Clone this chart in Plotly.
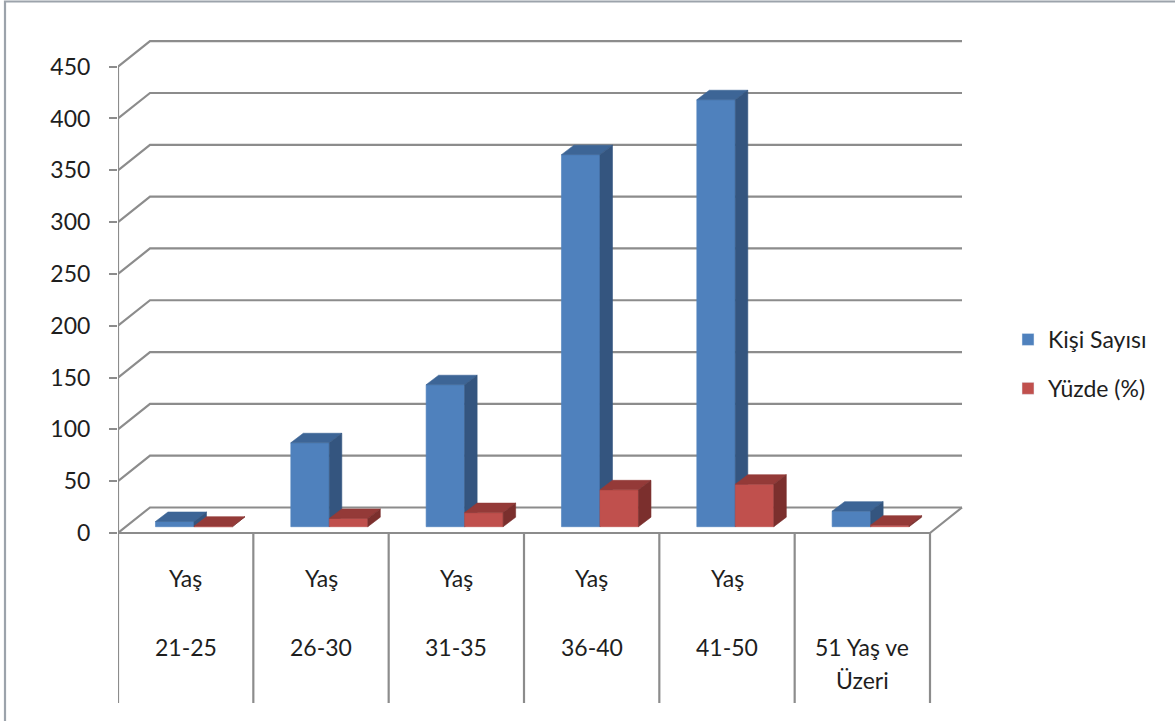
import plotly.graph_objects as go

# ---------------- data ----------------
categories = ["Yaş 21-25", "Yaş 26-30", "Yaş 31-35", "Yaş 36-40", "Yaş 41-50", "51 Yaş ve Üzeri"]
label_row1 = ["Yaş", "Yaş", "Yaş", "Yaş", "Yaş", ""]
label_row2 = ["21-25", "26-30", "31-35", "36-40", "41-50", "51 Yaş ve"]
label_row3 = ["", "", "", "", "", "Üzeri"]
kisi_sayisi = [5, 81, 137, 359, 412, 15]
yuzde = [0.5, 8.0, 13.6, 35.6, 41.0, 1.5]
series_names = ["Kişi Sayısı", "Yüzde (%)"]
y_ticks = [0, 50, 100, 150, 200, 250, 300, 350, 400, 450]

# ---------------- geometry helpers (pixel sizes -> axis units) ----------------
W, H = 1175, 721
PL, PR, PT, PB = 118, 975, 30, 710          # plot area in pixels
PX_PER_CAT = 135.333
PX_PER_UNIT = 1.0363
Y0_PIX = 533                                  # pixel row of value 0 (front)

def ux(p):
    return p / PX_PER_CAT

def uy(p):
    return p / PX_PER_UNIT

n = len(categories)
x_range = [-0.5, -0.5 + ux(PR - PL)]
y_range = [uy(Y0_PIX - PB), uy(Y0_PIX - PT)]

WDX, WDY = ux(32), uy(25.5)      # wall depth
BDX, BDY = ux(12.5), uy(9.5)     # bar depth
BASE = uy(6.3)                   # bar front-face base lift
BW = ux(38.5)                    # bar width
LEFT_OFF = [ux(-30.2), ux(-30.2) + BW]
TABLE_BOTTOM = uy(Y0_PIX - 703)

front_cols = ["#4F81BD", "#C0504D"]
top_cols = ["#3D6596", "#943A38"]
side_cols = ["#34557F", "#7B2F2D"]
grid_col = "#8C8C8C"
font_family = "Lato, 'Open Sans', sans-serif"
text_col = "#1E1E1E"

fig = go.Figure()

# back wall gridlines with the left wall diagonals
gx, gy = [], []
for v in y_ticks:
    gx += [-0.5, -0.5 + WDX, n - 0.5 + WDX, None]
    gy += [v, v + WDY, v + WDY, None]
fig.add_trace(go.Scatter(x=gx, y=gy, mode="lines", line=dict(color=grid_col, width=2.2),
                         hoverinfo="skip", showlegend=False))

# floor front edge + right edge
fig.add_trace(go.Scatter(x=[-0.5, n - 0.5, n - 0.5 + WDX], y=[0, 0, WDY], mode="lines",
                         line=dict(color=grid_col, width=2.2), hoverinfo="skip", showlegend=False))

# category separators (table lines) and the front value axis
sx, sy = [], []
for k in range(n + 1):
    sx += [k - 0.5, k - 0.5, None]
    sy += [0, TABLE_BOTTOM, None]
sx += [-0.5, -0.5, None]
sy += [y_ticks[-1], 0, None]
fig.add_trace(go.Scatter(x=sx, y=sy, mode="lines", line=dict(color=grid_col, width=2.2),
                         hoverinfo="skip", showlegend=False))

# 3D bars: per series front, top and side faces
for s, vals in enumerate([kisi_sayisi, yuzde]):
    fx, fy, tx, ty, qx, qy = [], [], [], [], [], []
    for i, v in enumerate(vals):
        xl = i + LEFT_OFF[s]
        xr = xl + BW
        b, t = BASE, BASE + v
        fx += [xl, xr, xr, xl, xl, None]
        fy += [b, b, t, t, b, None]
        tx += [xl, xr, xr + BDX, xl + BDX, xl, None]
        ty += [t, t, t + BDY, t + BDY, t, None]
        qx += [xr, xr + BDX, xr + BDX, xr, xr, None]
        qy += [b, b + BDY, t + BDY, t, b, None]
    for xs, ys, col in [(fx, fy, front_cols[s]), (tx, ty, top_cols[s]), (qx, qy, side_cols[s])]:
        fig.add_trace(go.Scatter(x=xs, y=ys, mode="lines", fill="toself", fillcolor=col,
                                 line=dict(color=col, width=0.6), hoverinfo="skip",
                                 showlegend=False))

# legend entries
for s, name in enumerate(series_names):
    fig.add_trace(go.Bar(x=[None], y=[None], name=name, marker_color=front_cols[s],
                         legendgroup=name, showlegend=True))

# category labels
annotations = []
rows_y = [uy(Y0_PIX - 578), uy(Y0_PIX - 647), uy(Y0_PIX - 680)]
for i in range(n):
    for row, ry in zip([label_row1, label_row2, label_row3], rows_y):
        if row[i]:
            annotations.append(dict(x=i, y=ry, xref="x", yref="y", text=row[i], showarrow=False,
                                    xanchor="center", yanchor="middle",
                                    font=dict(family=font_family, size=23, color=text_col)))

# outer border
border = dict(type="rect", xref="paper", yref="paper",
              x0=(5 - PL) / (PR - PL), x1=(W + 10 - PL) / (PR - PL),
              y0=(PB - (H + 10)) / (PB - PT), y1=(PB - 1.5) / (PB - PT),
              line=dict(color="#9CA3AB", width=2.2), fillcolor="rgba(0,0,0,0)", layer="below")

fig.update_layout(
    width=W, height=H,
    margin=dict(l=PL, r=W - PR, t=PT, b=H - PB, pad=0),
    paper_bgcolor="white", plot_bgcolor="white",
    font=dict(family=font_family, size=23, color=text_col),
    xaxis=dict(range=x_range, showgrid=False, zeroline=False, showline=False,
               showticklabels=False, ticks="", fixedrange=True),
    yaxis=dict(range=y_range, tickvals=y_ticks, ticktext=[str(v) for v in y_ticks],
               showgrid=False, zeroline=False, showline=False, ticks="outside",
               ticklen=8, tickwidth=2, tickcolor=grid_col, ticklabelstandoff=14,
               tickfont=dict(family=font_family, size=23, color=text_col), fixedrange=True),
    legend=dict(x=(1008 - PL) / (PR - PL), y=(PB - 318) / (PB - PT), xanchor="left", yanchor="top",
                font=dict(family=font_family, size=23, color=text_col),
                tracegroupgap=16, bgcolor="rgba(0,0,0,0)", itemwidth=30),
    annotations=annotations,
    shapes=[border],
    showlegend=True,
)

fig.write_html("out.html", config={"displayModeBar": False},
               post_script="document.body.style.margin='0px';")
